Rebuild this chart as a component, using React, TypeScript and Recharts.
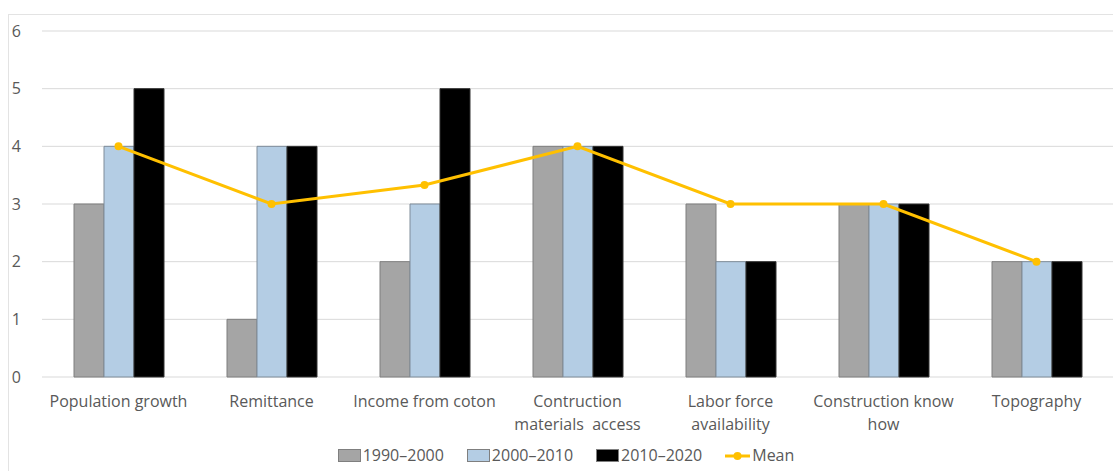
import React from 'react';
import {
  ComposedChart, Bar, Line,
  XAxis, YAxis, CartesianGrid, Legend
} from 'recharts';

const categories = [
  'Population growth',
  'Remittance',
  'Income from coton',
  'Contruction\nmaterials  access',
  'Labor force\navailability',
  'Construction know\nhow',
  'Topography'
];
const period1990 = [3, 1, 2, 4, 3, 3, 2];
const period2000 = [4, 4, 3, 4, 2, 3, 2];
const period2010 = [5, 4, 5, 4, 2, 3, 2];
const meanValues = [4, 3, 3.33, 4, 3, 3, 2];
const yTicks = [0, 1, 2, 3, 4, 5, 6];

const data = categories.map((name, i) => ({
  name,
  p1990: period1990[i],
  p2000: period2000[i],
  p2010: period2010[i],
  mean: meanValues[i]
}));

const FONT = '"Open Sans", sans-serif';
const TEXT = '#595959';
const SIZE = 16;

const CategoryTick = (props: any) => {
  const { x, y, payload } = props;
  const lines = String(payload.value).split('\n');
  return (
    <text x={x} y={y} textAnchor="middle" fill={TEXT} fontSize={SIZE} fontFamily={FONT} style={{ whiteSpace: 'pre' }}>
      {lines.map((line, i) => (
        <tspan key={i} x={x} dy={i === 0 ? '0.71em' : 23}>{line}</tspan>
      ))}
    </text>
  );
};

const LegendContent = (props: any) => {
  const { payload } = props;
  return (
    <div style={{ display: 'flex', justifyContent: 'center', paddingLeft: 19, fontFamily: FONT, fontSize: SIZE, color: TEXT, lineHeight: '21px' }}>
      {(payload || []).map((entry: any, i: number) => (
        <div key={i} style={{ display: 'flex', alignItems: 'center', marginRight: i < payload.length - 1 ? 23 : 0 }}>
          {entry.type === 'line' ? (
            <svg width={25} height={12} style={{ marginRight: 2 }}>
              <line x1={0} y1={6} x2={25} y2={6} stroke={entry.color} strokeWidth={3} />
              <circle cx={12.5} cy={6} r={4} fill={entry.color} />
            </svg>
          ) : (
            <svg width={23} height={13} style={{ marginRight: 2 }}>
              <rect x={0.5} y={0.5} width={22} height={12} fill={entry.color} stroke="#7f7f7f" strokeWidth={1} />
            </svg>
          )}
          <span>{entry.value}</span>
        </div>
      ))}
    </div>
  );
};

export default function App() {
  return (
    <div style={{ position: 'fixed', left: 0, top: 0, width: 1113, height: 471, overflow: 'hidden', background: '#fff' }}>
      <div style={{ position: 'absolute', left: 8, top: 14, width: 1200, height: 600, borderLeft: '1px solid #e3e3e3', borderTop: '1px solid #e3e3e3' }} />
      <div style={{ position: 'absolute', left: 0, top: 0 }}>
        <ComposedChart
          width={1113}
          height={471}
          data={data}
          margin={{ top: 31, right: 0, bottom: 0, left: 0 }}
          barCategoryGap={32}
          barGap={0}
        >
          <CartesianGrid vertical={false} stroke="#d9d9d9" />
          <XAxis
            dataKey="name"
            interval={0}
            axisLine={false}
            tickLine={false}
            tickSize={0}
            tickMargin={19}
            height={73}
            tick={<CategoryTick />}
          />
          <YAxis
            domain={[0, 6]}
            ticks={yTicks}
            width={42}
            axisLine={false}
            tickLine={false}
            tickSize={0}
            tickMargin={21}
            tick={{ fill: TEXT, fontSize: SIZE, fontFamily: FONT }}
          />
          <Legend
            verticalAlign="bottom"
            content={<LegendContent />}
            wrapperStyle={{ left: 0, width: 1113, top: 445, bottom: 'auto' }}
          />
          <Bar dataKey="p1990" name="1990–2000" fill="#a5a5a5" stroke="#7f7f7f" strokeWidth={1} isAnimationActive={false} />
          <Bar dataKey="p2000" name="2000–2010" fill="#b4cde4" stroke="#7f8c99" strokeWidth={1} isAnimationActive={false} />
          <Bar dataKey="p2010" name="2010–2020" fill="#000000" stroke="#333333" strokeWidth={1} isAnimationActive={false} />
          <Line
            dataKey="mean"
            name="Mean"
            type="linear"
            stroke="#ffc000"
            strokeWidth={3}
            dot={{ r: 4, fill: '#ffc000', stroke: '#ffc000', strokeWidth: 0 }}
            activeDot={false}
            legendType="line"
            isAnimationActive={false}
          />
        </ComposedChart>
      </div>
    </div>
  );
}
